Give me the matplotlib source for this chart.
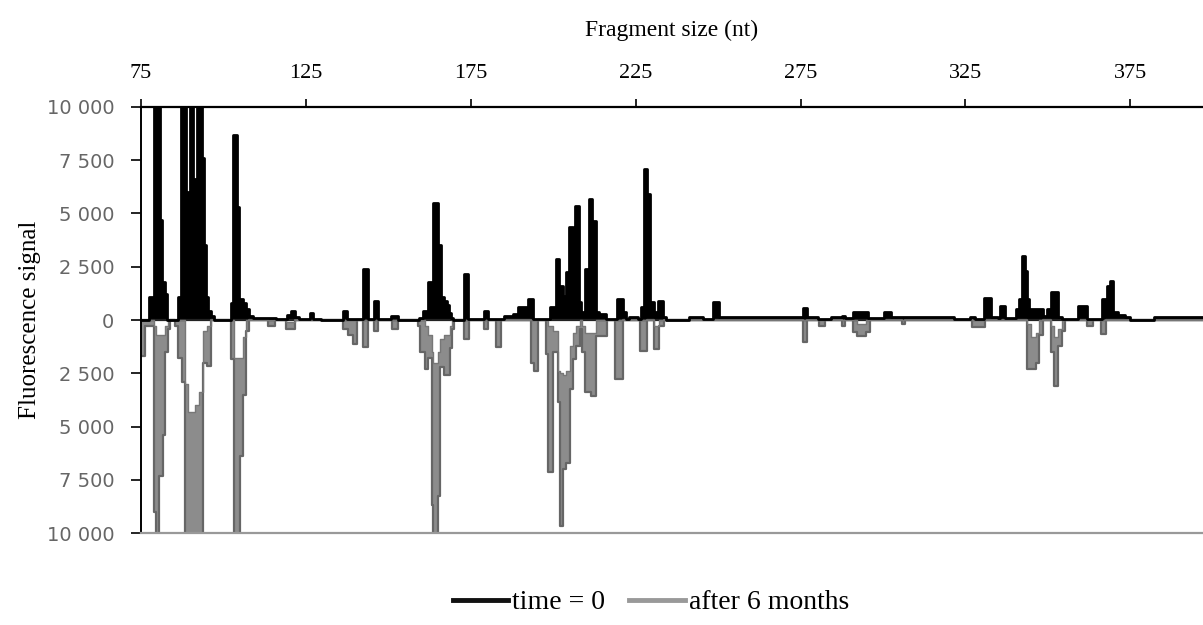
import matplotlib
matplotlib.use("Agg")
import matplotlib.pyplot as plt
from matplotlib.lines import Line2D

# fragment size (nt) breakpoints and signal for time = 0 (step data)
t0_size = [75.3, 77.4, 78.9, 80.8, 81.4, 82.3, 82.9, 86.2, 87.1, 88.6, 89.8, 90.8, 92.0,
           93.5, 94.1, 94.7, 95.3, 96.2, 97.1, 102.3, 103.0, 104.1, 104.7, 105.9, 106.8,
           107.7, 108.9, 113.2, 115.9, 119.2, 120.5, 121.7, 122.9, 126.2, 127.1, 129.5,
           136.2, 137.4, 142.3, 143.8, 145.6, 146.8, 150.8, 152.9, 159.2, 160.5, 162.0,
           163.5, 165.0, 165.9, 166.8, 167.7, 168.3, 168.9, 169.8, 172.9, 174.1, 178.9,
           180.2, 185.0, 187.8, 189.5, 192.3, 193.8, 199.2, 200.8, 201.7, 202.9, 203.8,
           204.7, 205.9, 206.5, 207.7, 208.6, 209.8, 210.8, 211.7, 212.9, 213.8, 215.9,
           219.5, 221.1, 222.0, 222.9, 225.6, 226.5, 227.4, 228.6, 229.5, 230.5, 231.7,
           233.2, 234.1, 241.1, 245.3, 248.6, 250.2, 253.8, 275.6, 277.1, 280.2, 284.1,
           287.7, 288.6, 290.8, 295.6, 300.2, 302.3, 321.4, 326.5, 328.0, 330.5, 332.6,
           335.0, 335.6, 337.1, 340.2, 341.1, 342.0, 342.9, 343.8, 344.4, 348.6, 349.8,
           350.8, 352.9, 354.4, 359.2, 361.9, 366.5, 368.0, 368.9, 369.8, 371.1, 373.5,
           375.0, 382.0, 397.0]
t0_signal = [0, 1100, 10500, 4700, 1800, 1200, 0, 1100, 10500, 6000, 10500, 6600, 10500,
             7600, 3500, 1100, 400, 200, 0, 800, 8700, 5300, 1000, 800, 500,
             200, 80, 100, 50, 250, 400, 150, 50, 350, 50, 0,
             420, 50, 2400, 50, 900, 50, 200, 0, 100, 400, 1780,
             5500, 3500, 1100, 900, 700, 350, 100, 0, 2150, 50, 420,
             50, 200, 300, 600, 1000, 50, 600, 2860, 1600, 1130, 2250,
             4360, 1920, 5350, 850, 370, 2400, 5680, 4650, 370, 280, 50,
             1000, 370, 50, 150, 50, 600, 7100, 5900, 850, 370, 900,
             150, 0, 150, 50, 850, 150, 130, 560, 130, 30, 150,
             200, 100, 370, 100, 370, 150, 50, 150, 50, 1030, 150,
             100, 660, 100, 520, 1000, 3000, 2300, 1000, 520, 200, 520,
             1300, 150, 50, 660, 50, 1000, 1600, 1830, 370, 250, 150,
             0, 150, 150]

# after 6 months (drawn mirrored below zero): outer and inner envelope of the trace
m6_size = [75.0, 76.2, 78.9, 79.5, 80.5, 81.7, 82.3, 83.2, 83.8, 85.3, 86.2, 87.4, 88.3,
           89.2, 91.4, 92.6, 93.8, 95.0, 96.2, 102.3, 103.2, 105.0, 105.9, 106.8, 107.9,
           113.5, 115.6, 118.9, 121.7, 136.2, 137.7, 139.2, 140.7, 142.3, 143.8, 145.6,
           146.8, 151.1, 152.9, 158.9, 159.8, 161.1, 162.0, 163.2, 163.5, 165.0, 165.6,
           166.8, 168.6, 169.2, 170.1, 172.9, 174.4, 179.0, 180.2, 182.6, 184.1, 193.2,
           194.1, 195.3, 197.7, 198.6, 200.0, 201.5, 202.0, 202.9, 203.8, 205.0, 205.9,
           206.8, 208.0, 208.9, 209.8, 211.4, 212.9, 216.2, 218.9, 221.1, 226.2, 228.6,
           230.5, 232.1, 233.5, 275.6, 277.1, 280.5, 282.3, 287.7, 288.6, 290.8, 292.0,
           294.7, 296.2, 305.9, 306.8, 327.1, 330.8, 343.8, 345.0, 346.5, 347.4, 348.6,
           350.8, 351.7, 353.0, 354.4, 355.3, 361.9, 363.8, 366.2, 367.7, 397.0]
m6_outer = [-1700, -300, -9000, -10500, -7300, -5400, -1500, -400, 0, -300, -1800, -2900, -10500,
            -10500, -10500, -10500, -2000, -2150, 0, -1830, -10500, -6400, -3500, -500, 0,
            -280, 0, -420, 0, -420, -700, -1130, 0, -1270, 0, -500,
            0, -420, 0, -300, -1500, -2300, -1800, -8700, -10500, -8250, -2200,
            -2600, -1300, -400, 0, -900, 0, -400, 0, -1270, 0, -2000,
            -2400, 0, -1600, -7150, -1500, -3850, -9650, -7000, -6700, -3250, -1830,
            -1200, -400, -1500, -3380, -3550, -750, 0, -2770, 0, -1450, 0,
            -1370, -300, 0, -1030, 0, -280, 0, -300, 0, -570, -750,
            -570, 0, -200, 0, -330, 0, -2300, -2300, -2000, -700, 0,
            -1500, -3100, -1200, -500, 0, -280, 0, -650, 0, 0]
m6_inner = [0, 0, -300, -700, -700, -700, -300, 0, 0, 0, 0, 0, -3000,
            -4300, -4000, -3400, -500, -300, 0, 0, -1800, -1800, -800, 0, 0,
            0, 0, -100, 0, 0, 0, 0, 0, 0, 0, 0,
            0, 0, 0, 0, 0, -300, -700, -1500, -2000, -1500, -900,
            -700, -300, 0, 0, 0, 0, 0, 0, 0, 0, 0,
            0, 0, 0, -300, -500, -2400, -2500, -2600, -2400, -1200, -600,
            -300, 0, -300, -600, -600, 0, 0, 0, 0, 0, 0,
            -300, 0, 0, 0, 0, 0, 0, 0, 0, 0, -200,
            0, 0, 0, 0, 0, 0, -200, -800, -600, 0, 0,
            -300, -800, -400, 0, 0, 0, 0, 0, 0, 0]

x_ticks = [75, 125, 175, 225, 275, 325, 375]
y_ticks = [-10000, -7500, -5000, -2500, 0, 2500, 5000, 7500, 10000]
y_tick_labels = ["10 000", "7 500", "5 000", "2 500", "0", "2 500", "5 000", "7 500", "10 000"]

serif = "Liberation Serif"

fig = plt.figure(figsize=(12.03, 6.25), dpi=100)
ax = fig.add_axes([0.117, 0.147, 0.883, 0.682])

# after 6 months (gray, below zero)
ax.fill_between(m6_size, m6_outer, m6_inner, step="post", color="#8c8c8c", lw=0)
ax.step(m6_size, m6_outer, where="post", color="#666666", lw=1.6)
ax.step(m6_size, m6_inner, where="post", color="#777777", lw=1.0)

# time = 0 (black, above zero)
ax.fill_between(t0_size, 0, t0_signal, step="post", color="black", lw=0)
ax.step(t0_size, t0_signal, where="post", color="black", lw=2.0)
ax.axhline(0, color="#222222", lw=1.6, zorder=1)

ax.set_xlim(75, 397)
ax.set_ylim(-10000, 10000)

ax.xaxis.tick_top()
ax.xaxis.set_label_position("top")
ax.set_xticks(x_ticks)
ax.set_xticklabels([str(v) for v in x_ticks], fontfamily=serif, fontsize=16)
ax.tick_params(axis="x", direction="out", length=6, width=1.2, pad=11, color="black")
ax.set_xlabel("Fragment size (nt)", fontfamily=serif, fontsize=17, labelpad=20)

ax.set_yticks(y_ticks)
ax.set_yticklabels(y_tick_labels, fontfamily="DejaVu Sans", fontsize=14, color="#666666")
ax.tick_params(axis="y", direction="out", length=7, width=1.2, pad=12, color="black")
ax.set_ylabel("Fluorescence signal", fontfamily=serif, fontsize=18, labelpad=4)

ax.spines["right"].set_visible(False)
ax.spines["top"].set_linewidth(1.6)
ax.spines["left"].set_linewidth(1.4)
ax.spines["bottom"].set_color("#999999")
ax.spines["bottom"].set_linewidth(1.6)

handles = [Line2D([], [], color="#111111", lw=3.5),
           Line2D([], [], color="#999999", lw=3.5)]
fig.legend(handles, ["time = 0", "after 6 months"], loc="center", bbox_to_anchor=(0.541, 0.036),
           ncol=2, frameon=False, handlelength=2.0, handletextpad=0.15, columnspacing=0.85,
           prop={"family": serif, "size": 20})

fig.savefig("out.png", dpi=100)
